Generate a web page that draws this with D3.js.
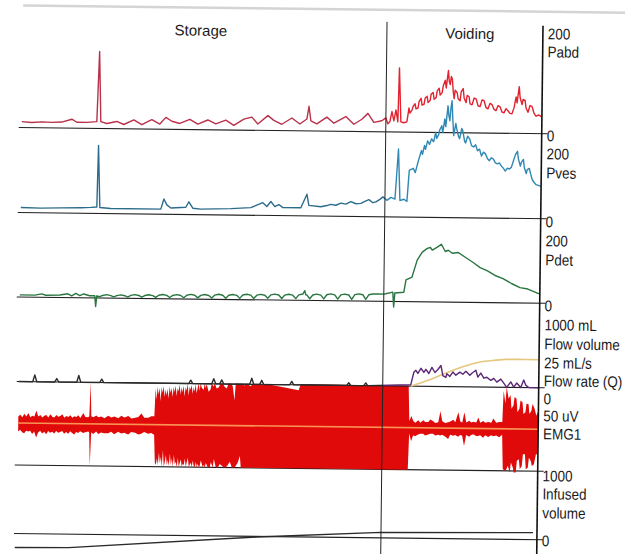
<!DOCTYPE html>
<html>
<head>
<meta charset="utf-8">
<script src="https://cdn.jsdelivr.net/npm/d3@7"></script>
<style>
body { margin: 0; background: #fff; }
svg { display: block; }
</style>
</head>
<body>
<div id="chart"></div>
<script>
// urodynamic trace, time in seconds from start of filling
// Pabd, cmH2O
var pabd = [
  [0,14],[10,12],[20,14],[30,13],[40,14],[50,21],[55,14],[65,14],[75,16],[77,181],[79,16],[85,12],
  [95,17],[102,10],[112,21],[120,10],[130,22],[138,12],[144,28],[150,19],[158,14],[168,24],[176,13],
  [186,23],[194,14],[204,23],[212,11],[222,26],[230,31],[236,15],[246,35],[252,24],[260,15],[270,30],
  [278,16],[285,28],[287,58],[289,24],[295,17],[305,33],[312,19],[324,35],[332,17],[340,29],[346,43],
  [352,22],[360,26],[364,33],[366,19],[368,24],[370,48],[372,26],[374,52],[376,24],[377,151],[379,24],
  [382,22],[385,24],[386,40],[387,57],[388,45],[390,52],[391,60],[393,67],[394,55],[396,57],[397,72],
  [399,80],[400,64],[402,66],[403,80],[405,85],[406,70],[408,75],[409,90],[411,94],[412,78],[414,82],
  [415,98],[417,104],[418,88],[420,94],[421,110],[423,123],[424,105],[426,146],[427,120],[428,113],
  [429,132],[430,127],[431,98],[432,80],[433,100],[435,94],[436,80],[438,75],[439,96],[441,104],
  [442,82],[444,71],[445,88],[447,85],[448,68],[450,66],[452,82],[454,80],[456,64],[458,62],[460,78],
  [462,76],[464,60],[466,57],[468,70],[470,67],[472,56],[474,53],[476,65],[478,62],[480,50],[482,48],
  [484,58],[486,53],[488,47],[490,46],[492,60],[494,86],[495,72],[497,110],[498,84],[500,68],[501,80],
  [503,78],[504,60],[506,50],[508,66],[510,64],[512,48],[514,41],[517,44],[520,39]
];
// Pves, cmH2O
var pves = [
  [0,12],[20,11],[40,12],[60,13],[70,14],[76,15],[77,160],[79,14],[90,12],[140,12],[143,36],[146,22],
  [150,15],[165,17],[168,30],[172,15],[180,13],[210,15],[230,18],[242,30],[246,21],[250,33],[254,21],
  [258,26],[262,19],[280,19],[286,51],[288,25],[300,22],[306,25],[310,28],[315,26],[320,31],[325,29],
  [330,35],[335,30],[340,31],[344,36],[348,40],[352,33],[355,35],[359,41],[362,47],[366,39],[370,46],
  [374,42],[377,160],[379,39],[383,42],[386,37],[388,110],[392,115],[394,105],[397,133],[400,157],
  [401,148],[403,169],[404,160],[406,180],[408,172],[410,185],[412,178],[414,200],[415,186],[417,195],
  [418,206],[420,216],[421,200],[423,232],[424,214],[426,263],[427,240],[428,228],[429,258],[430,275],
  [431,230],[432,193],[434,222],[435,209],[437,190],[438,186],[440,210],[441,205],[443,180],[444,176],
  [446,192],[448,186],[450,170],[452,167],[454,172],[456,158],[458,162],[460,146],[462,155],[464,151],
  [466,140],[468,135],[470,142],[472,139],[474,130],[476,128],[478,130],[480,123],[482,118],[484,111],
  [486,118],[488,116],[490,120],[492,135],[494,150],[496,158],[497,140],[499,123],[500,132],[502,139],
  [503,120],[505,106],[506,115],[508,118],[510,100],[511,92],[513,85],[515,80],[520,76]
];
// Pdet, cmH2O
var pdet = [
  [0,5],[15,5],[22,8],[26,5],[40,6],[48,9],[52,4],[56,10],[60,5],[64,9],[70,5],[75,5],[76,-20],[77,5],
  [80,3],[83,6],[87,8],[91,6],[94,3],[97,6],[101,8],[105,6],[108,3],[111,7],[115,9],[119,7],
  [122,3],[125,7],[129,9],[133,7],[136,3],[139,8],[143,10],[147,8],[150,3],[153,8],[157,10],[161,8],
  [164,3],[167,9],[171,11],[175,9],[178,3],[181,9],[185,11],[189,9],[192,3],[195,10],[199,12],[203,10],
  [206,3],[209,10],[213,12],[217,10],[220,3],[223,11],[227,13],[231,11],[234,3],[237,11],[241,13],[245,11],
  [248,4],[251,12],[255,14],[259,12],[262,4],[265,12],[269,14],[273,12],[276,4],[279,13],[283,15],
  [285,23],[286,13],[287,13],[290,4],[293,13],[297,15],[301,13],[304,4],[307,14],[311,16],[315,14],
  [318,4],[321,14],[325,16],[329,14],[332,4],[335,15],[339,17],[343,15],[346,4],[349,15],[353,17],
  [358,17],[364,17],[366,18],[373,22],[374,-13],[375,20],[384,22],[386,51],[392,58],[397,98],[402,117],
  [407,126],[410,128],[412,122],[417,129],[421,136],[425,119],[428,122],[432,115],[438,117],[445,106],
  [453,94],[460,82],[467,75],[475,64],[483,57],[492,45],[500,36],[508,33],[517,24],[520,22]
];
// flow rate, mL/s
var flowRate = [
  [0,0],[14,0],[16,2],[18,0],[36,0],[38,1],[40,0],[58,0],[60,2],[62,0],[81,0],[83,1],[85,0],
  [170,0],[172,1],[174,0],[193,0],[195,1.5],[197,0],[201,0],[203,1.2],[205,0],[231,0],[233,1.8],[235,0],
  [241,0],[243,1.2],[245,0],[271,0],[273,1],[275,0],[328,0],[330,0.8],[332,0],[345,0],[347,0.8],[349,0],
  [392,0.4],[395,4.1],[397,4.7],[399,3.8],[402,5.3],[405,4.1],[407,5.0],[410,3.8],[413,5.6],[416,4.1],
  [419,5.0],[422,6.2],[424,3.2],[427,2.7],[428,3.8],[431,3.0],[434,4.3],[437,3.4],[441,4.3],[444,3.7],
  [447,4.6],[451,3.4],[453,4.0],[457,4.9],[459,2.9],[462,4.1],[465,2.6],[468,2.9],[472,2.0],[475,2.6],
  [478,1.5],[482,2.4],[485,1.2],[488,0],[492,1.6],[495,0.1],[498,1.3],[502,0],[505,2.2],[507,0.7],
  [510,0],[520,0]
];
// voided volume, mL
var flowVolume = [[392,0],[410,74],[427,159],[443,232],[460,292],[477,318],[487,329],[500,330],[520,328]];
// EMG envelope: [sec, upper uV, lower uV]
var emg = [
  [0,8,-10],[2,10,-8],[4,7,-11],[6,11,-12],[8,8,-9],[10,12,-10],[12,7,-9],[14,9,-13],[16,8,-10],
  [18,15,-17],[20,8,-11],[22,10,-9],[24,7,-12],[26,9,-10],[28,10,-13],[30,7,-9],[32,11,-11],[34,8,-10],
  [36,7,-12],[38,10,-9],[40,8,-11],[42,9,-10],[44,11,-9],[46,7,-12],[48,9,-10],[50,8,-12],[52,10,-9],
  [54,7,-11],[56,9,-13],[58,8,-10],[60,10,-11],[62,7,-9],[65,13,-11],[67,8,-10],[70,8,-9],[71,9,-10],
  [72,50,-50],[73,9,-10],[75,8,-12],[78,10,-9],[80,8,-12],[83,9,-10],[86,7,-11],[90,10,-11],[93,8,-9],
  [96,9,-12],[100,7,-9],[103,10,-11],[106,8,-10],[110,10,-12],[113,7,-9],[117,8,-10],[120,9,-12],
  [123,13,-11],[126,8,-9],[130,8,-11],[133,10,-10],[136,10,-12],
  [137,43,-45],[138,30,-48],[139,45,-40],[140,36,-48],[141,44,-33],[142,28,-46],[143,45,-38],
  [144,38,-50],[145,46,-30],[146,33,-50],[147,42,-44],[148,35,-36],[149,43,-48],[150,31,-42],
  [151,46,-49],[152,38,-34],[153,44,-48],[154,33,-40],[155,45,-50],[156,39,-36],[157,47,-47],
  [158,34,-44],[159,44,-50],[160,40,-39],[161,48,-50],[162,36,-45],[163,45,-41],[164,39,-50],
  [165,47,-46],[166,34,-48],[167,45,-40],[168,41,-50],[169,49,-44],[170,35,-39],[171,46,-50],
  [172,42,-47],[173,48,-45],[174,37,-50],[175,45,-42],[176,40,-49],[177,49,-50],[178,38,-44],
  [179,44,-50],[180,50,-46],[181,41,-50],[182,50,-48],[183,45,-42],[185,42,-50],[186,50,-47],
  [187,44,-50],[188,49,-45],[190,40,-50],[192,43,-50],[193,50,-44],[195,46,-50],[196,50,-40],
  [198,44,-50],[200,45,-50],[202,50,-46],[204,50,-48],[206,46,-50],[208,44,-50],[210,50,-47],
  [212,50,-43],[214,47,-50],[216,30,-50],[217,50,-50],[220,50,-44],[222,50,-36],[223,50,-50],
  [226,48,-50],[228,50,-50],[232,47,-50],[234,50,-50],[246,49,-50],[248,50,-50],[280,43,-50],
  [282,50,-50],[390,50,-50],
  [391,8,-7],[393,14,-16],[395,8,-9],[397,6,-10],[400,9,-8],[402,6,-7],[405,9,-7],[407,7,-9],
  [410,7,-8],[412,10,-7],[415,8,-7],[417,6,-9],[420,7,-8],[422,20,-9],[424,8,-8],[427,6,-10],
  [430,7,-13],[432,8,-8],[435,10,-9],[437,7,-8],[440,19,-10],[442,8,-8],[444,7,-9],[446,19,-21],
  [448,7,-8],[451,9,-10],[453,7,-8],[455,8,-7],[458,7,-9],[460,13,-9],[462,7,-8],[465,9,-11],
  [467,7,-8],[470,8,-10],[473,7,-8],[475,12,-9],[478,7,-8],[481,8,-10],[484,8,-7],
  [485,45,-48],[487,30,-50],[488,50,-50],[490,36,-44],[492,40,-52],[493,24,-40],[495,28,-46],
  [496,38,-52],[498,36,-52],[499,20,-38],[501,24,-36],[502,34,-48],[504,32,-44],[505,18,-30],
  [507,20,-30],[508,30,-48],[510,30,-46],[511,18,-34],[513,22,-38],[514,30,-44],[516,25,-42],
  [518,16,-30],[520,22,-30]
];
// infused volume, mL
var infused = [[-2,-212],[52,-205],[240,-10],[364,83],[516,106]];

var phases = [["Storage", 178], ["Voiding", 447]];
var voidStart = 364;
// right-hand labels: text, centre y
var axisLabels = [
  ["200",31],["Pabd",49],["0",133],["200",151],["Pves",170],["0",219],["200",238],["Pdet",257],
  ["0",303],["1000 mL",322],["Flow volume",341],["25 mL/s",360],["Flow rate (Q)",378],["0",396],
  ["50 uV",413],["EMG1",431],["1000",473],["Infused",491],["volume",510],["0",538]
];

var width = 625, height = 554;
var svg = d3.select("#chart").append("svg")
    .attr("width", width)
    .attr("height", height);
var defs = svg.append("defs");

// the scanned page is slightly tilted
var g = svg.append("g").attr("transform", "rotate(0.68,312,277)");

var x = d3.scaleLinear().domain([0, 520]).range([20, 540]);
var axisX = 540;

var yPabd = d3.scaleLinear().domain([0, 200]).range([131, 46]);
var yPves = d3.scaleLinear().domain([0, 200]).range([216, 131]);
var yPdet = d3.scaleLinear().domain([0, 200]).range([300.5, 215.5]);
var yFlow = d3.scaleLinear().domain([0, 25]).range([385, 300]);
var yVol = d3.scaleLinear().domain([0, 1000]).range([385, 300]);
var yEmg = d3.scaleLinear().domain([-50, 50]).range([468.5, 384.5]);
var yInf = d3.scaleLinear().domain([0, 1000]).range([537, 471]);

function grad(id, c1, c2) {
  var lg = defs.append("linearGradient").attr("id", id)
      .attr("gradientUnits", "userSpaceOnUse")
      .attr("x1", x(0)).attr("x2", x(520)).attr("y1", 0).attr("y2", 0);
  var off = (x(voidStart) - x(0)) / (x(520) - x(0));
  lg.append("stop").attr("offset", 0).attr("stop-color", c1);
  lg.append("stop").attr("offset", off).attr("stop-color", c1);
  lg.append("stop").attr("offset", off).attr("stop-color", c2);
  lg.append("stop").attr("offset", 1).attr("stop-color", c2);
  return "url(#" + id + ")";
}

// scan edge at the top
g.append("line").attr("x1", 20).attr("x2", 650).attr("y1", 9).attr("y2", 9)
  .attr("stroke", "#d4d4d4").attr("stroke-width", 2.5);

// zero lines of every channel, running through the axis as a tick
var zeroLines = [yPabd(0), yPves(0), yPdet(0), yEmg(-50), yInf(0)];
g.selectAll(".zero").data(zeroLines).enter().append("line")
  .attr("class", "zero")
  .attr("x1", 17).attr("x2", axisX + 6)
  .attr("y1", d => d).attr("y2", d => d)
  .attr("stroke", "#222").attr("stroke-width", 1.1);

// EMG
g.append("path").datum(emg)
  .attr("d", d3.area().x(d => x(d[0])).y0(d => yEmg(d[2])).y1(d => yEmg(d[1])))
  .attr("fill", "#e10a0a");
g.append("line")
  .attr("x1", x(0)).attr("x2", x(520))
  .attr("y1", yEmg(0)).attr("y2", yEmg(0))
  .attr("stroke", "#f99355").attr("stroke-width", 1.6);

// flow zero line
g.append("line").attr("x1", 18).attr("x2", axisX + 6)
  .attr("y1", yFlow(0)).attr("y2", yFlow(0))
  .attr("stroke", "#222").attr("stroke-width", 1.1);

function trace(data, y, color, w) {
  g.append("path").datum(data)
    .attr("d", d3.line().x(d => x(d[0])).y(d => y(d[1])))
    .attr("fill", "none")
    .attr("stroke", color)
    .attr("stroke-width", w)
    .attr("stroke-linejoin", "round");
}

trace(pabd, yPabd, grad("gPabd", "#b9304a", "#e2222f"), 1.4);
trace(pves, yPves, grad("gPves", "#2b6b8c", "#2f88b3"), 1.4);
trace(pdet, yPdet, "#2a7640", 1.4);
g.append("path").datum(flowVolume)
  .attr("d", d3.line().curve(d3.curveMonotoneX).x(d => x(d[0])).y(d => yVol(d[1])))
  .attr("fill", "none").attr("stroke", "#e6c77e").attr("stroke-width", 1.6);
trace(flowRate, yFlow, grad("gFlow", "#2a2a2a", "#5b2673"), 1.4);
trace(infused, yInf, "#2a2a2a", 1.4);

// phase divider and right axis
g.append("line").attr("x1", x(voidStart)).attr("x2", x(voidStart))
  .attr("y1", 21).attr("y2", 570).attr("stroke", "#222").attr("stroke-width", 1);
g.append("line").attr("x1", axisX).attr("x2", axisX)
  .attr("y1", 23).attr("y2", 570).attr("stroke", "#111").attr("stroke-width", 1.6);

// texts
g.selectAll(".phase").data(phases).enter().append("text")
  .attr("class", "phase")
  .attr("x", d => x(d[1])).attr("y", 37)
  .attr("text-anchor", "middle")
  .attr("font-family", "Liberation Sans, Arial, sans-serif")
  .attr("font-size", "15px")
  .attr("fill", "#1a1a1a")
  .text(d => d[0]);

g.selectAll(".lab").data(axisLabels).enter().append("text")
  .attr("class", "lab")
  .attr("transform", d => "translate(" + (axisX + 5) + "," + d[1] + ") scale(0.87,1)")
  .attr("dy", "0.36em")
  .attr("font-family", "Liberation Sans, Arial, sans-serif")
  .attr("font-size", "15.5px")
  .attr("fill", "#1a1a1a")
  .text(d => d[0]);
</script>
</body>
</html>
